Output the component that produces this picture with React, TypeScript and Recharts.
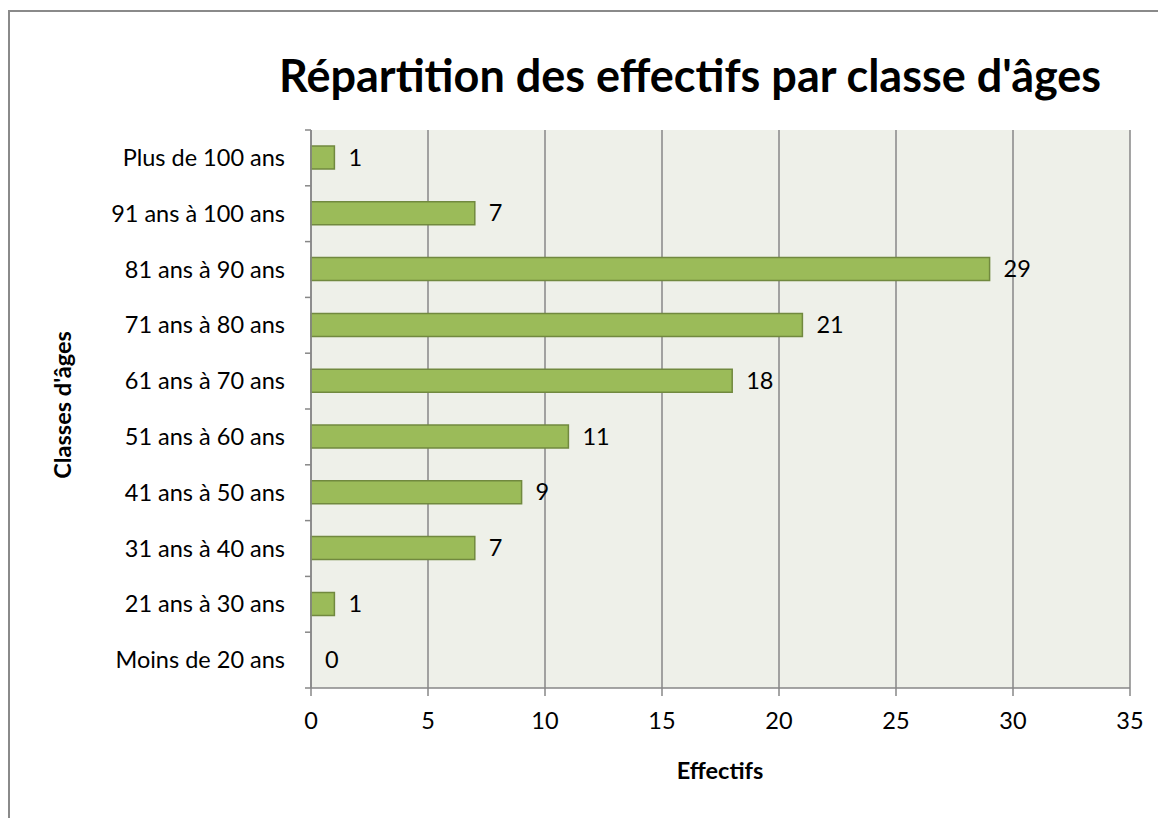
import React from "react";
import { BarChart, Bar, XAxis, YAxis, CartesianGrid, LabelList, Cell } from "recharts";

const categories = [
  "Moins de 20 ans",
  "21 ans à 30 ans",
  "31 ans à 40 ans",
  "41 ans à 50 ans",
  "51 ans à 60 ans",
  "61 ans à 70 ans",
  "71 ans à 80 ans",
  "81 ans à 90 ans",
  "91 ans à 100 ans",
  "Plus de 100 ans",
];
const effectifs = [0, 1, 7, 9, 11, 18, 21, 29, 7, 1];
const xTicks = [0, 5, 10, 15, 20, 25, 30, 35];

const data = categories.map((c, i) => ({ classe: c, effectif: effectifs[i] }));

const FONT = "Lato, 'Open Sans', sans-serif";
const AXIS = "#878787";
const W = 1156;
const H = 806;
const M = { top: 118, right: 36, bottom: 78, left: 0 };
const XH = 52;
const BAND = (H - M.top - M.bottom - XH) / categories.length;

// tick label + boundary tick mark (Excel style, ticks between categories)
function CatTick(props: any) {
  const { x, y, payload, index } = props;
  const ax = x + 8;
  return (
    <g>
      <line x1={ax - 6} x2={ax} y1={y - BAND / 2} y2={y - BAND / 2} stroke={AXIS} strokeWidth={1.5} />
      {index === 0 && (
        <line x1={ax - 6} x2={ax} y1={y + BAND / 2} y2={y + BAND / 2} stroke={AXIS} strokeWidth={1.5} />
      )}
      <text x={ax - 26} y={y} dy={8} textAnchor="end" fontSize={23.5} fill="#000" fontFamily={FONT}>
        {payload.value}
      </text>
    </g>
  );
}

function ValueLabel(props: any) {
  const { x, y, width, height, value } = props;
  return (
    <text x={x + width + 14} y={y + height / 2} dy={8} fontSize={23.5} fill="#000" fontFamily={FONT}>
      {value}
    </text>
  );
}

export default function App() {
  return (
    <div
      style={{
        position: "relative",
        width: W,
        height: H,
        marginTop: 2,
        borderTop: "2px solid #8a8a8a",
        borderLeft: "2px solid #8a8a8a",
        fontFamily: FONT,
      }}
    >
      <div
        style={{
          position: "absolute",
          left: 269,
          width: 800,
          top: 36,
          textAlign: "center",
          fontSize: 45,
          lineHeight: "54px",
          fontWeight: "bold",
          color: "#000",
          whiteSpace: "nowrap",
        }}
      >
        Répartition des effectifs par classe d'âges
      </div>
      <div
        style={{
          position: "absolute",
          left: -48,
          width: 200,
          top: 379,
          lineHeight: "28px",
          textAlign: "center",
          fontSize: 23.5,
          fontWeight: "bold",
          transform: "rotate(-90deg)",
          whiteSpace: "nowrap",
        }}
      >
        Classes d'âges
      </div>
      <div
        style={{
          position: "absolute",
          left: 610,
          width: 200,
          top: 744,
          lineHeight: "28px",
          textAlign: "center",
          fontSize: 23.5,
          fontWeight: "bold",
        }}
      >
        Effectifs
      </div>
      <BarChart
        width={W}
        height={H}
        data={data}
        layout="vertical"
        margin={M}
        barSize={23}
        style={{ position: "absolute", left: 0, top: 0 }}
      >
        <CartesianGrid horizontal={false} stroke={AXIS} strokeWidth={1.5} fill="#EEF0E9" fillOpacity={1} />
        <XAxis
          type="number"
          domain={[0, 35]}
          ticks={xTicks}
          height={XH}
          axisLine={{ stroke: AXIS, strokeWidth: 1.5 }}
          tickLine={{ stroke: AXIS, strokeWidth: 1.5 }}
          tickSize={8}
          tick={{ fontSize: 23.5, fill: "#000", fontFamily: FONT }}
          tickMargin={16}
        />
        <YAxis
          type="category"
          dataKey="classe"
          reversed
          width={301}
          axisLine={{ stroke: AXIS, strokeWidth: 1.5 }}
          tickLine={false}
          tick={<CatTick />}
          interval={0}
        />
        <Bar
          dataKey="effectif"
          fill="#9BBB59"
          stroke="#71893F"
          strokeWidth={1.5}
          minPointSize={(v: any) => (v === 0 ? 0.001 : 0)}
          isAnimationActive={false}
        >
          {data.map((d) => (
            <Cell key={d.classe} stroke={d.effectif === 0 ? "none" : "#71893F"} />
          ))}
          <LabelList dataKey="effectif" content={<ValueLabel />} />
        </Bar>
      </BarChart>
    </div>
  );
}
